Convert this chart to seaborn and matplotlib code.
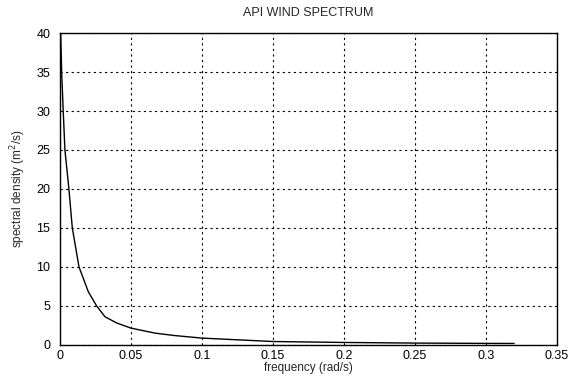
import matplotlib
matplotlib.use("Agg")
import matplotlib.pyplot as plt
import seaborn as sns
import pandas as pd

freq = [0.0005, 0.0012, 0.0023, 0.0035, 0.0063, 0.0087, 0.0134, 0.02, 0.0258, 0.0317,
        0.04, 0.05, 0.0669, 0.08, 0.1, 0.15, 0.2, 0.25, 0.3, 0.32]
density = [40, 35, 30, 25, 20, 15, 10, 6.8, 5, 3.6,
           2.8, 2.14, 1.5, 1.2, 0.86, 0.42, 0.3, 0.22, 0.18, 0.17]
xticks = [0, 0.05, 0.1, 0.15, 0.2, 0.25, 0.3, 0.35]
xticklabels = ["0", "0.05", "0.1", "0.15", "0.2", "0.25", "0.3", "0.35"]
yticks = [0, 5, 10, 15, 20, 25, 30, 35, 40]

sns.set_theme(style="white")
plt.rcParams['font.family'] = ['Liberation Sans', 'DejaVu Sans']

df = pd.DataFrame({"freq": freq, "density": density})
fig = plt.figure(figsize=(5.71, 3.76), dpi=100)
ax = fig.add_axes([0.105, 0.083, 0.87, 0.829])
sns.lineplot(data=df, x="freq", y="density", color="black", linewidth=1.0, ax=ax)

ax.set_xlim(0, 0.35)
ax.set_ylim(0, 40)
ax.set_xticks(xticks)
ax.set_xticklabels(xticklabels)
ax.set_yticks(yticks)
ax.grid(True, color="black", linestyle=(0, (2, 3)), linewidth=0.8)
for s in ax.spines.values():
    s.set_color("black")
    s.set_linewidth(1.0)
ax.tick_params(axis="both", direction="in", length=3, labelsize=9, colors="black")
ax.tick_params(axis="y", pad=7)
ax.tick_params(axis="x", pad=4)
ax.set_title("API WIND SPECTRUM", fontsize=9, pad=12)
ax.set_xlabel("frequency (rad/s)", fontsize=8.5, labelpad=0)
ax.set_ylabel("spectral density (m$^2$/s)", fontsize=8.5, labelpad=6)

fig.savefig("out.png", dpi=100, facecolor="white")
